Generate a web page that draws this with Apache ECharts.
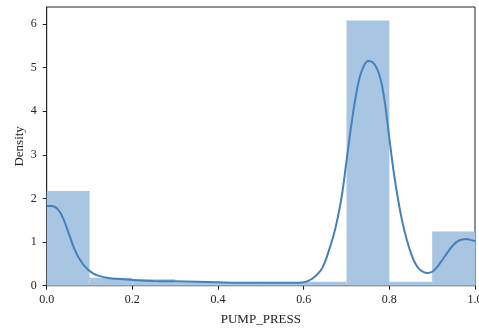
<!DOCTYPE html>
<html>
<head>
<meta charset="utf-8">
<script src="https://cdn.jsdelivr.net/npm/echarts@6/dist/echarts.min.js"></script>
<style>
  html, body { margin: 0; padding: 0; background: #fff; }
  #chart { width: 479px; height: 329px; }
</style>
</head>
<body>
<div id="chart"></div>
<script>
// Histogram bins (left edges, width 0.1) and their densities
const binStarts = [0.0, 0.1, 0.2, 0.3, 0.4, 0.5, 0.6, 0.7, 0.8, 0.9];
const binWidth = 0.1;
const binDensity = [2.17, 0.18, 0.15, 0.08, 0.07, 0.07, 0.09, 6.08, 0.09, 1.24];

// Kernel density estimate curve
const kdeX = [0, 0.01, 0.02, 0.03, 0.04, 0.05, 0.06, 0.07, 0.08, 0.09, 0.10, 0.11, 0.12, 0.14, 0.16, 0.18,
  0.20, 0.25, 0.30, 0.35, 0.40, 0.45, 0.50, 0.55, 0.58, 0.60, 0.62, 0.64, 0.65, 0.66, 0.67, 0.68, 0.69,
  0.70, 0.71, 0.72, 0.73, 0.74, 0.75, 0.76, 0.77, 0.78, 0.79, 0.80, 0.81, 0.82, 0.83, 0.84, 0.85, 0.86,
  0.87, 0.88, 0.89, 0.90, 0.91, 0.92, 0.93, 0.94, 0.95, 0.96, 0.97, 0.98, 0.99, 1.00];
const kdeY = [1.83, 1.83, 1.80, 1.70, 1.51, 1.24, 0.96, 0.73, 0.56, 0.43, 0.34, 0.27, 0.23, 0.18, 0.16, 0.15,
  0.13, 0.11, 0.10, 0.09, 0.08, 0.07, 0.07, 0.07, 0.07, 0.08, 0.16, 0.35, 0.55, 0.84, 1.16, 1.58, 2.12,
  2.86, 3.60, 4.25, 4.75, 5.03, 5.15, 5.13, 5.00, 4.72, 4.17, 3.38, 2.62, 2.00, 1.48, 1.08, 0.76, 0.52,
  0.38, 0.31, 0.29, 0.32, 0.41, 0.54, 0.68, 0.82, 0.94, 1.02, 1.06, 1.07, 1.05, 1.02];

// Tick labels
const xTicks = [0, 0.2, 0.4, 0.6, 0.8, 1.0];
const yTicks = [0, 1, 2, 3, 4, 5, 6];

const barData = binStarts.map((s, i) => [s, s + binWidth, binDensity[i]]);
const lineData = kdeX.map((x, i) => [x, kdeY[i]]);

const FONT = '"Liberation Serif", "DejaVu Serif", serif';
const AXIS_COLOR = '#222';

const chart = echarts.init(document.getElementById('chart'), null, { renderer: 'canvas' });
chart.setOption({
  animation: false,
  backgroundColor: '#fff',
  grid: {
    left: 46.7, right: 4, top: 7, bottom: 43.3,
    containLabel: false, outerBoundsMode: 'none',
    show: true, borderColor: AXIS_COLOR, borderWidth: 1, backgroundColor: 'transparent'
  },
  xAxis: {
    type: 'value', min: 0, max: 1, interval: 0.2,
    name: 'PUMP_PRESS', nameLocation: 'middle', nameGap: 27, nameMoveOverlap: false,
    nameTextStyle: { fontFamily: FONT, fontSize: 13, color: AXIS_COLOR },
    axisLine: { show: true, lineStyle: { color: AXIS_COLOR, width: 1 } },
    axisTick: { show: true, length: 4, inside: false, customValues: xTicks, lineStyle: { color: AXIS_COLOR } },
    axisLabel: {
      fontFamily: FONT, fontSize: 12, color: AXIS_COLOR, margin: 8,
      customValues: xTicks, formatter: v => v.toFixed(1)
    },
    splitLine: { show: false }
  },
  yAxis: {
    type: 'value', min: 0, max: 6.39, interval: 1,
    name: 'Density', nameLocation: 'middle', nameGap: 21, nameMoveOverlap: false,
    nameTextStyle: { fontFamily: FONT, fontSize: 13, color: AXIS_COLOR },
    axisLine: { show: true, lineStyle: { color: AXIS_COLOR, width: 1 } },
    axisTick: { show: true, length: 4, inside: false, customValues: yTicks, lineStyle: { color: AXIS_COLOR } },
    axisLabel: {
      fontFamily: FONT, fontSize: 12, color: AXIS_COLOR, margin: 10,
      customValues: yTicks, formatter: v => String(v)
    },
    splitLine: { show: false }
  },
  series: [
    {
      type: 'custom',
      data: barData,
      encode: { x: [0, 1], y: 2 },
      z: 1,
      renderItem: function (params, api) {
        const p0 = api.coord([api.value(0), api.value(2)]);
        const p1 = api.coord([api.value(1), 0]);
        return {
          type: 'rect',
          shape: { x: p0[0], y: p0[1], width: p1[0] - p0[0], height: p1[1] - p0[1] },
          style: { fill: '#a8c5e1' }
        };
      }
    },
    {
      type: 'line',
      data: lineData,
      smooth: 0.3,
      symbol: 'none',
      z: 3,
      lineStyle: { color: '#4680ba', width: 2 }
    }
  ]
});
</script>
</body>
</html>
